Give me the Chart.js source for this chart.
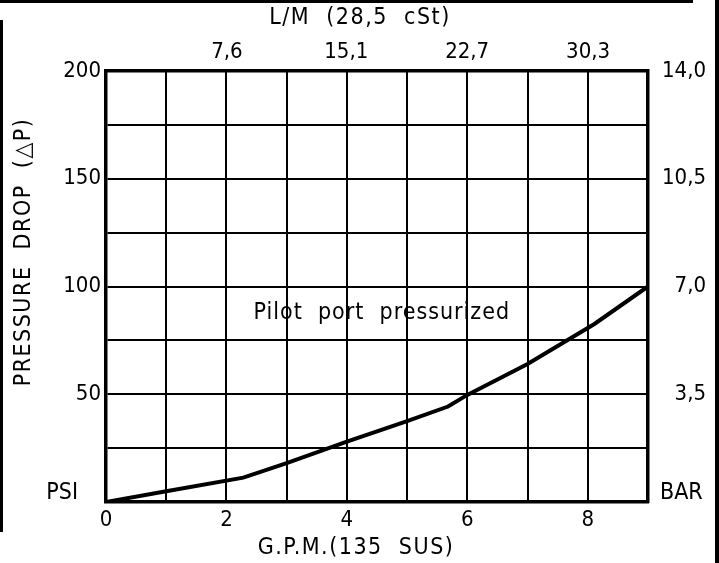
<!DOCTYPE html>
<html>
<head>
<meta charset="utf-8">
<script src="https://cdn.jsdelivr.net/npm/chart.js@4"></script>
<style>
  html, body { margin: 0; padding: 0; background: #fff; }
  #wrap { width: 719px; height: 563px; position: relative; }
</style>
</head>
<body>
<div id="wrap"><canvas id="drop"></canvas></div>
<script>
// flow (GPM) vs pressure drop (PSI)
const gpm = [0, 1, 2.28, 3, 4, 5, 5.68, 6, 7, 8.11, 9];
const psi = [0, 5, 11.3, 18, 28, 37.5, 44.3, 49.7, 64, 82.6, 100];

// tick labels
const gpmLabels = [0, 2, 4, 6, 8];
const psiLabels = [50, 100, 150, 200];
const barValues = [3.5, 7, 10.5, 14];
const lmValues = [7.6, 15.1, 22.7, 30.3];

const FONT = '"DejaVu Sans Condensed", "DejaVu Sans", sans-serif';
const comma = v => v.toFixed(1).replace(".", ",");

// frame, axis titles, unit labels and curve note
const extras = {
    id: "extras",
    afterDraw(chart) {
        const { ctx, scales } = chart;
        const x = scales.x, y = scales.y;
        ctx.save();
        ctx.strokeStyle = "#000";
        ctx.lineWidth = 3;
        ctx.beginPath();
        ctx.moveTo(0, 1.5); ctx.lineTo(693, 1.5);
        ctx.moveTo(1.5, 20); ctx.lineTo(1.5, 532);
        ctx.stroke();
        ctx.lineWidth = 4;
        ctx.beginPath();
        ctx.moveTo(717, 0); ctx.lineTo(717, 563);
        ctx.stroke();

        ctx.fillStyle = "#000";
        ctx.font = "23px " + FONT;
        ctx.textBaseline = "alphabetic";
        const base = y.getPixelForValue(0) - 3;
        ctx.textAlign = "right";
        ctx.fillText("PSI", x.left - 28, base);
        ctx.textAlign = "left";
        ctx.fillText("BAR", x.right + 12, base);

        ctx.textAlign = "center";
        ctx.textBaseline = "middle";
        ctx.letterSpacing = "1px";
        ctx.fillText("Pilot  port  pressurized", x.getPixelForValue(4.58), y.getPixelForValue(87.7));
        ctx.letterSpacing = "1.5px";
        ctx.fillText("G.P.M.(135  SUS)", x.left + 250, chart.height - 15);
        ctx.fillText("L/M  (28,5  cSt)", x.left + 254, 18);
        ctx.translate(24, y.top + 181);
        ctx.rotate(-Math.PI / 2);
        ctx.fillText("PRESSURE  DROP  (\u25B3P)", 0, 0);
        ctx.restore();
    }
};

const tickFont = { family: FONT, size: 22 };

new Chart(document.getElementById("drop"), {
    type: "line",
    data: {
        datasets: [{
            data: gpm.map((g, i) => ({ x: g, y: psi[i] })),
            borderColor: "#000",
            borderWidth: 4,
            pointRadius: 0,
            tension: 0,
            fill: false,
            xAxisID: "x",
            yAxisID: "y",
        }],
    },
    options: {
        responsive: true,
        maintainAspectRatio: false,
        animation: false,
        layout: { padding: { left: 0, top: 0, bottom: 0, right: 13 } },
        plugins: { legend: { display: false }, tooltip: { enabled: false } },
        scales: {
            x: {
                type: "linear",
                position: "bottom",
                min: 0, max: 9,
                ticks: {
                    stepSize: 1, color: "#000", font: tickFont, padding: 5, maxRotation: 0, autoSkip: false,
                    callback: v => gpmLabels.includes(v) ? String(v) : "",
                },
                grid: { color: "#000", lineWidth: 2, drawTicks: false },
                border: { color: "#000", width: 3.5 },
                afterFit: s => { s.height = 61; },
            },
            x2: {
                type: "linear",
                position: "top",
                min: 0, max: 9 * 3.785,
                afterBuildTicks: s => { s.ticks = lmValues.map(v => ({ value: v })); },
                ticks: { color: "#000", font: tickFont, padding: 6, maxRotation: 0, autoSkip: false, callback: v => comma(v) },
                grid: { display: false, drawTicks: false },
                border: { color: "#000", width: 3.5 },
                afterFit: s => { s.height = 71; },
            },
            y: {
                position: "left",
                min: 0, max: 200,
                ticks: {
                    stepSize: 25, color: "#000", font: tickFont, padding: 5, autoSkip: false,
                    callback: v => psiLabels.includes(v) ? String(v) : "",
                },
                grid: { color: "#000", lineWidth: 2, drawTicks: false },
                border: { color: "#000", width: 3.5 },
                afterFit: s => { s.width = 106; },
            },
            y2: {
                position: "right",
                min: 0, max: 14,
                afterBuildTicks: s => { s.ticks = barValues.map(v => ({ value: v })); },
                ticks: { color: "#000", font: tickFont, padding: 4, crossAlign: "far", autoSkip: false, callback: v => comma(v) },
                grid: { display: false, drawTicks: false },
                border: { color: "#000", width: 3.5 },
                afterFit: s => { s.width = 58; },
            },
        },
    },
    plugins: [extras],
});
</script>
</body>
</html>
